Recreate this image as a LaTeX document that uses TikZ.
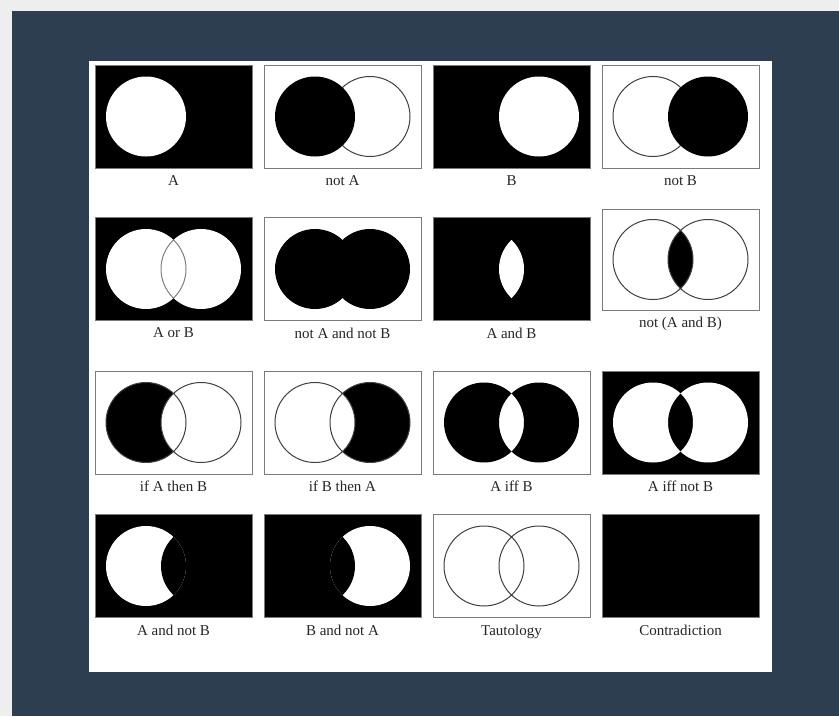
\documentclass[tikz,border=0pt]{standalone}
\usepackage{fontspec}
\setmainfont{Liberation Serif}
\usepackage{tikz}
\usetikzlibrary{positioning,calc}
\definecolor{canvas}{HTML}{EEEEEE}
\definecolor{slate}{HTML}{2C3E50}
\definecolor{rim}{HTML}{7B7B7B}
\definecolor{ink}{HTML}{262626}

% the two sets of one panel: (<name>a) and (<name>b)
\newcommand\setsof[1]{%
  \coordinate (#1a) at ($(#1)+(-27.5,0)$);
  \coordinate (#1b) at ($(#1)+(27.5,0)$);}
\newcommand\rad{40}

\begin{document}
\begin{tikzpicture}[x=1pt,y=-1pt,
    panel/.style={draw=rim,line width=1pt,minimum width=157pt,minimum height=103pt,
                  inner sep=0pt,outer sep=0pt},
    darkpanel/.style={panel,fill=black},
    lightpanel/.style={panel,fill=white},
    ring/.style={draw=black!75,line width=1pt},
    seam/.style={draw=black!50,line width=1pt},
    caption/.style={inner sep=0pt,text=ink,font=\fontsize{15}{18}\selectfont}]
  \useasboundingbox (0,0) rectangle (839,716);
  \fill[canvas] (0,0) rectangle (839,716);
  \fill[slate] (12,11) rectangle (839,716);
  \fill[white] (89,61) rectangle (772,672);

  % row 1
  \node[darkpanel] (p11) at (173.5,116.5) {};
  \node[lightpanel,right=12pt of p11] (p12) {};
  \node[darkpanel,right=12pt of p12] (p13) {};
  \node[lightpanel,right=12pt of p13] (p14) {};
  % row 2
  \node[darkpanel] (p21) at (173.5,269) {};
  \node[lightpanel,right=12pt of p21] (p22) {};
  \node[darkpanel,right=12pt of p22] (p23) {};
  \node[lightpanel,right=12pt of p23,yshift=9.5pt,minimum height=101pt] (p24) {};
  % row 3
  \node[lightpanel] (p31) at (173.5,422.5) {};
  \node[lightpanel,right=12pt of p31] (p32) {};
  \node[lightpanel,right=12pt of p32] (p33) {};
  \node[darkpanel,right=12pt of p33] (p34) {};
  % row 4
  \node[darkpanel] (p41) at (173.5,566) {};
  \node[darkpanel,right=12pt of p41] (p42) {};
  \node[lightpanel,right=12pt of p42] (p43) {};
  \node[darkpanel,right=12pt of p43] (p44) {};

  \foreach \p in {p11,p12,p13,p14,p21,p22,p23,p24,p31,p32,p33,p34,p41,p42,p43}
    {\setsof{\p}}

  % A
  \fill[white] (p11a) circle (\rad);
  % not A
  \draw[ring] (p12b) circle (\rad);
  \fill[black] (p12a) circle (\rad);
  % B
  \fill[white] (p13b) circle (\rad);
  % not B
  \draw[ring] (p14a) circle (\rad);
  \fill[black] (p14b) circle (\rad);

  % A or B
  \fill[white] (p21a) circle (\rad) (p21b) circle (\rad);
  \begin{scope}
    \clip (p21a) circle (\rad);
    \draw[seam] (p21b) circle (\rad);
  \end{scope}
  \begin{scope}
    \clip (p21b) circle (\rad);
    \draw[seam] (p21a) circle (\rad);
  \end{scope}
  % not A and not B
  \fill[black] (p22a) circle (\rad) (p22b) circle (\rad);
  % A and B
  \begin{scope}
    \clip (p23a) circle (\rad);
    \fill[white] (p23b) circle (\rad);
  \end{scope}
  % not (A and B)
  \begin{scope}
    \clip (p24a) circle (\rad);
    \fill[black] (p24b) circle (\rad);
  \end{scope}
  \draw[ring] (p24a) circle (\rad) (p24b) circle (\rad);

  % if A then B
  \fill[black] (p31a) circle (\rad);
  \begin{scope}
    \clip (p31a) circle (\rad);
    \fill[white] (p31b) circle (\rad);
  \end{scope}
  \draw[ring] (p31a) circle (\rad) (p31b) circle (\rad);
  % if B then A
  \fill[black] (p32b) circle (\rad);
  \begin{scope}
    \clip (p32b) circle (\rad);
    \fill[white] (p32a) circle (\rad);
  \end{scope}
  \draw[ring] (p32a) circle (\rad) (p32b) circle (\rad);
  % A iff B
  \fill[black,even odd rule] (p33a) circle (\rad) (p33b) circle (\rad);
  % A iff not B
  \fill[white,even odd rule] (p34a) circle (\rad) (p34b) circle (\rad);

  % A and not B
  \fill[white] (p41a) circle (\rad);
  \begin{scope}
    \clip (p41a) circle (\rad);
    \fill[black] (p41b) circle (\rad);
  \end{scope}
  % B and not A
  \fill[white] (p42b) circle (\rad);
  \begin{scope}
    \clip (p42b) circle (\rad);
    \fill[black] (p42a) circle (\rad);
  \end{scope}
  % tautology
  \draw[ring] (p43a) circle (\rad) (p43b) circle (\rad);

  % captions
  \node[caption,below=7pt of p11] (c11) {A};
  \node[caption,below=7pt of p12] (c12) {not A};
  \node[caption,below=7pt of p13] (c13) {B};
  \node[caption,below=7pt of p14] (c14) {not B};
  \node[caption,below=7pt of p21] (c21) {A or B};
  \node[caption,below=7pt of p22] (c22) {not A and not B};
  \node[caption,below=7pt of p23] (c23) {A and B};
  \node[caption,below=7pt of p24] (c24) {not (A and B)};
  \node[caption,below=7pt of p31] (c31) {if A then B};
  \node[caption,below=7pt of p32] (c32) {if B then A};
  \node[caption,below=7pt of p33] (c33) {A iff B};
  \node[caption,below=7pt of p34] (c34) {A iff not B};
  \node[caption,below=7pt of p41] (c41) {A and not B};
  \node[caption,below=7pt of p42] (c42) {B and not A};
  \node[caption,below=7pt of p43] (c43) {Tautology};
  \node[caption,below=7pt of p44] (c44) {Contradiction};
\end{tikzpicture}
\end{document}
